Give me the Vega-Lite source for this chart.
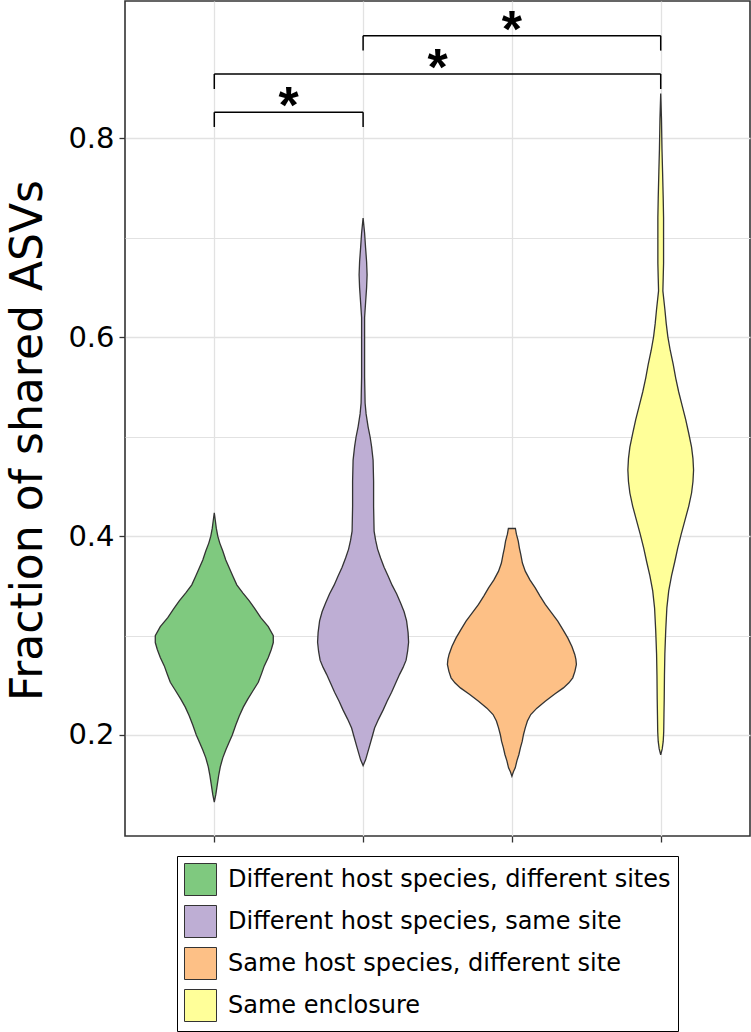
{
  "$schema": "https://vega.github.io/schema/vega-lite/v6.json",
  "width": 625,
  "height": 835,
  "autosize": "none",
  "padding": {"left": 125, "top": 1, "right": 1, "bottom": 196},
  "config": {
    "font": "DejaVu Sans",
    "view": {"stroke": "#333333", "strokeWidth": 1.6},
    "axis": {"gridColor": "#E2E2E2", "gridWidth": 1.3, "tickColor": "#333333", "tickWidth": 1.3, "tickSize": 6, "domain": false, "labelColor": "black", "titleColor": "black"}
  },
  "datasets": {
    "groups": [
      {"group": "Different host species, different sites"},
      {"group": "Different host species, same site"},
      {"group": "Same host species, different site"},
      {"group": "Same enclosure"}
    ],
    "violins": [
      {"group": "Different host species, different sites", "value": 0.1326, "density": 0},
      {"group": "Different host species, different sites", "value": 0.140, "density": 0.2},
      {"group": "Different host species, different sites", "value": 0.150, "density": 0.4},
      {"group": "Different host species, different sites", "value": 0.160, "density": 0.6},
      {"group": "Different host species, different sites", "value": 0.168, "density": 0.8},
      {"group": "Different host species, different sites", "value": 0.177, "density": 1.133},
      {"group": "Different host species, different sites", "value": 0.185, "density": 1.533},
      {"group": "Different host species, different sites", "value": 0.192, "density": 1.933},
      {"group": "Different host species, different sites", "value": 0.200, "density": 2.4},
      {"group": "Different host species, different sites", "value": 0.210, "density": 2.867},
      {"group": "Different host species, different sites", "value": 0.219, "density": 3.333},
      {"group": "Different host species, different sites", "value": 0.228, "density": 3.867},
      {"group": "Different host species, different sites", "value": 0.236, "density": 4.467},
      {"group": "Different host species, different sites", "value": 0.245, "density": 5.2},
      {"group": "Different host species, different sites", "value": 0.253, "density": 5.867},
      {"group": "Different host species, different sites", "value": 0.261, "density": 6.267},
      {"group": "Different host species, different sites", "value": 0.2695, "density": 6.667},
      {"group": "Different host species, different sites", "value": 0.278, "density": 7.2},
      {"group": "Different host species, different sites", "value": 0.286, "density": 7.6},
      {"group": "Different host species, different sites", "value": 0.293, "density": 7.867},
      {"group": "Different host species, different sites", "value": 0.300, "density": 7.867},
      {"group": "Different host species, different sites", "value": 0.309, "density": 7.2},
      {"group": "Different host species, different sites", "value": 0.318, "density": 6.2},
      {"group": "Different host species, different sites", "value": 0.327, "density": 5.4},
      {"group": "Different host species, different sites", "value": 0.335, "density": 4.667},
      {"group": "Different host species, different sites", "value": 0.343, "density": 3.8},
      {"group": "Different host species, different sites", "value": 0.351, "density": 3.0},
      {"group": "Different host species, different sites", "value": 0.360, "density": 2.467},
      {"group": "Different host species, different sites", "value": 0.368, "density": 2.0},
      {"group": "Different host species, different sites", "value": 0.376, "density": 1.533},
      {"group": "Different host species, different sites", "value": 0.385, "density": 1.133},
      {"group": "Different host species, different sites", "value": 0.393, "density": 0.733},
      {"group": "Different host species, different sites", "value": 0.400, "density": 0.467},
      {"group": "Different host species, different sites", "value": 0.408, "density": 0.267},
      {"group": "Different host species, different sites", "value": 0.416, "density": 0.133},
      {"group": "Different host species, different sites", "value": 0.4234, "density": 0},

      {"group": "Different host species, same site", "value": 0.1693, "density": 0},
      {"group": "Different host species, same site", "value": 0.175, "density": 0.333},
      {"group": "Different host species, same site", "value": 0.182, "density": 0.6},
      {"group": "Different host species, same site", "value": 0.189, "density": 0.867},
      {"group": "Different host species, same site", "value": 0.198, "density": 1.2},
      {"group": "Different host species, same site", "value": 0.207, "density": 1.533},
      {"group": "Different host species, same site", "value": 0.216, "density": 2.067},
      {"group": "Different host species, same site", "value": 0.225, "density": 2.667},
      {"group": "Different host species, same site", "value": 0.234, "density": 3.2},
      {"group": "Different host species, same site", "value": 0.243, "density": 3.8},
      {"group": "Different host species, same site", "value": 0.252, "density": 4.333},
      {"group": "Different host species, same site", "value": 0.261, "density": 4.867},
      {"group": "Different host species, same site", "value": 0.268, "density": 5.333},
      {"group": "Different host species, same site", "value": 0.2753, "density": 5.733},
      {"group": "Different host species, same site", "value": 0.284, "density": 5.933},
      {"group": "Different host species, same site", "value": 0.2932, "density": 6.067},
      {"group": "Different host species, same site", "value": 0.303, "density": 6.0},
      {"group": "Different host species, same site", "value": 0.3148, "density": 5.8},
      {"group": "Different host species, same site", "value": 0.324, "density": 5.467},
      {"group": "Different host species, same site", "value": 0.3328, "density": 5.0},
      {"group": "Different host species, same site", "value": 0.342, "density": 4.467},
      {"group": "Different host species, same site", "value": 0.3507, "density": 3.867},
      {"group": "Different host species, same site", "value": 0.360, "density": 3.333},
      {"group": "Different host species, same site", "value": 0.3687, "density": 2.8},
      {"group": "Different host species, same site", "value": 0.378, "density": 2.333},
      {"group": "Different host species, same site", "value": 0.387, "density": 1.933},
      {"group": "Different host species, same site", "value": 0.396, "density": 1.667},
      {"group": "Different host species, same site", "value": 0.405, "density": 1.467},
      {"group": "Different host species, same site", "value": 0.430, "density": 1.4},
      {"group": "Different host species, same site", "value": 0.455, "density": 1.4},
      {"group": "Different host species, same site", "value": 0.4765, "density": 1.333},
      {"group": "Different host species, same site", "value": 0.490, "density": 1.133},
      {"group": "Different host species, same site", "value": 0.500, "density": 0.933},
      {"group": "Different host species, same site", "value": 0.510, "density": 0.667},
      {"group": "Different host species, same site", "value": 0.523, "density": 0.4},
      {"group": "Different host species, same site", "value": 0.534, "density": 0.267},
      {"group": "Different host species, same site", "value": 0.560, "density": 0.2},
      {"group": "Different host species, same site", "value": 0.600, "density": 0.2},
      {"group": "Different host species, same site", "value": 0.620, "density": 0.2},
      {"group": "Different host species, same site", "value": 0.635, "density": 0.333},
      {"group": "Different host species, same site", "value": 0.650, "density": 0.467},
      {"group": "Different host species, same site", "value": 0.663, "density": 0.533},
      {"group": "Different host species, same site", "value": 0.676, "density": 0.467},
      {"group": "Different host species, same site", "value": 0.690, "density": 0.333},
      {"group": "Different host species, same site", "value": 0.705, "density": 0.2},
      {"group": "Different host species, same site", "value": 0.720, "density": 0},

      {"group": "Same host species, different site", "value": 0.1586, "density": 0},
      {"group": "Same host species, different site", "value": 0.163, "density": 0.2},
      {"group": "Same host species, different site", "value": 0.167, "density": 0.447},
      {"group": "Same host species, different site", "value": 0.174, "density": 0.667},
      {"group": "Same host species, different site", "value": 0.1804, "density": 0.933},
      {"group": "Same host species, different site", "value": 0.187, "density": 1.133},
      {"group": "Same host species, different site", "value": 0.1938, "density": 1.38},
      {"group": "Same host species, different site", "value": 0.200, "density": 1.533},
      {"group": "Same host species, different site", "value": 0.2072, "density": 1.78},
      {"group": "Same host species, different site", "value": 0.214, "density": 2.067},
      {"group": "Same host species, different site", "value": 0.2206, "density": 2.513},
      {"group": "Same host species, different site", "value": 0.227, "density": 3.333},
      {"group": "Same host species, different site", "value": 0.234, "density": 4.447},
      {"group": "Same host species, different site", "value": 0.241, "density": 5.667},
      {"group": "Same host species, different site", "value": 0.2474, "density": 6.867},
      {"group": "Same host species, different site", "value": 0.2525, "density": 7.6},
      {"group": "Same host species, different site", "value": 0.2575, "density": 8.113},
      {"group": "Same host species, different site", "value": 0.264, "density": 8.4},
      {"group": "Same host species, different site", "value": 0.2709, "density": 8.6},
      {"group": "Same host species, different site", "value": 0.276, "density": 8.533},
      {"group": "Same host species, different site", "value": 0.281, "density": 8.38},
      {"group": "Same host species, different site", "value": 0.289, "density": 8.0},
      {"group": "Same host species, different site", "value": 0.2977, "density": 7.447},
      {"group": "Same host species, different site", "value": 0.306, "density": 6.8},
      {"group": "Same host species, different site", "value": 0.3145, "density": 6.113},
      {"group": "Same host species, different site", "value": 0.323, "density": 5.267},
      {"group": "Same host species, different site", "value": 0.3313, "density": 4.447},
      {"group": "Same host species, different site", "value": 0.340, "density": 3.733},
      {"group": "Same host species, different site", "value": 0.348, "density": 3.113},
      {"group": "Same host species, different site", "value": 0.356, "density": 2.4},
      {"group": "Same host species, different site", "value": 0.3648, "density": 1.78},
      {"group": "Same host species, different site", "value": 0.373, "density": 1.4},
      {"group": "Same host species, different site", "value": 0.3816, "density": 1.18},
      {"group": "Same host species, different site", "value": 0.388, "density": 1.0},
      {"group": "Same host species, different site", "value": 0.395, "density": 0.847},
      {"group": "Same host species, different site", "value": 0.402, "density": 0.6},
      {"group": "Same host species, different site", "value": 0.4077, "density": 0.467},

      {"group": "Same enclosure", "value": 0.1801, "density": 0},
      {"group": "Same enclosure", "value": 0.186, "density": 0.2},
      {"group": "Same enclosure", "value": 0.1935, "density": 0.333},
      {"group": "Same enclosure", "value": 0.2032, "density": 0.4},
      {"group": "Same enclosure", "value": 0.220, "density": 0.433},
      {"group": "Same enclosure", "value": 0.2356, "density": 0.467},
      {"group": "Same enclosure", "value": 0.260, "density": 0.5},
      {"group": "Same enclosure", "value": 0.2818, "density": 0.553},
      {"group": "Same enclosure", "value": 0.305, "density": 0.667},
      {"group": "Same enclosure", "value": 0.3279, "density": 0.82},
      {"group": "Same enclosure", "value": 0.345, "density": 1.067},
      {"group": "Same enclosure", "value": 0.3603, "density": 1.447},
      {"group": "Same enclosure", "value": 0.374, "density": 1.867},
      {"group": "Same enclosure", "value": 0.388, "density": 2.267},
      {"group": "Same enclosure", "value": 0.402, "density": 2.733},
      {"group": "Same enclosure", "value": 0.4157, "density": 3.22},
      {"group": "Same enclosure", "value": 0.430, "density": 3.733},
      {"group": "Same enclosure", "value": 0.4434, "density": 4.113},
      {"group": "Same enclosure", "value": 0.455, "density": 4.3},
      {"group": "Same enclosure", "value": 0.4665, "density": 4.38},
      {"group": "Same enclosure", "value": 0.478, "density": 4.3},
      {"group": "Same enclosure", "value": 0.4896, "density": 4.113},
      {"group": "Same enclosure", "value": 0.5035, "density": 3.733},
      {"group": "Same enclosure", "value": 0.5173, "density": 3.333},
      {"group": "Same enclosure", "value": 0.531, "density": 2.867},
      {"group": "Same enclosure", "value": 0.545, "density": 2.4},
      {"group": "Same enclosure", "value": 0.559, "density": 2.0},
      {"group": "Same enclosure", "value": 0.5727, "density": 1.667},
      {"group": "Same enclosure", "value": 0.587, "density": 1.267},
      {"group": "Same enclosure", "value": 0.6005, "density": 0.953},
      {"group": "Same enclosure", "value": 0.614, "density": 0.733},
      {"group": "Same enclosure", "value": 0.6282, "density": 0.553},
      {"group": "Same enclosure", "value": 0.6467, "density": 0.287},
      {"group": "Same enclosure", "value": 0.660, "density": 0.333},
      {"group": "Same enclosure", "value": 0.6744, "density": 0.38},
      {"group": "Same enclosure", "value": 0.700, "density": 0.38},
      {"group": "Same enclosure", "value": 0.7206, "density": 0.38},
      {"group": "Same enclosure", "value": 0.740, "density": 0.333},
      {"group": "Same enclosure", "value": 0.7667, "density": 0.247},
      {"group": "Same enclosure", "value": 0.790, "density": 0.167},
      {"group": "Same enclosure", "value": 0.820, "density": 0.1},
      {"group": "Same enclosure", "value": 0.8453, "density": 0}
    ],
    "brackets": [
      {"xstart": 1, "xend": 2, "xmid": 1.5, "y": 0.8264, "ytick": 0.8116, "label": "*"},
      {"xstart": 1, "xend": 4, "xmid": 2.5, "y": 0.8649, "ytick": 0.8498, "label": "*"},
      {"xstart": 2, "xend": 4, "xmid": 3, "y": 0.9034, "ytick": 0.8884, "label": "*"}
    ]
  },
  "layer": [
    {
      "data": {"name": "groups"},
      "mark": {"type": "point", "opacity": 0},
      "encoding": {
        "x": {
          "field": "group", "type": "nominal",
          "sort": ["Different host species, different sites", "Different host species, same site", "Same host species, different site", "Same enclosure"],
          "scale": {"type": "point", "padding": 0.6},
          "axis": {"title": null, "labels": false, "grid": true, "ticks": true, "domain": false, "orient": "bottom"}
        }
      }
    },
    {
      "data": {"name": "violins"},
      "transform": [{"filter": {"field": "group", "equal": "Different host species, different sites"}}],
      "mark": {"type": "area", "orient": "horizontal", "stroke": "#333333", "strokeWidth": 1.3, "opacity": 1},
      "encoding": {
        "y": {
          "field": "value", "type": "quantitative",
          "scale": {"domain": [0.0984, 0.9383], "nice": false, "zero": false},
          "axis": {
            "title": "Fraction of shared ASVs",
            "values": [0.2, 0.3, 0.4, 0.5, 0.6, 0.7, 0.8],
            "labelExpr": "datum.value == 0.3 || datum.value == 0.5 || datum.value == 0.7 ? '' : format(datum.value, '.1f')",
            "tickOpacity": {"condition": {"test": "datum.value == 0.3 || datum.value == 0.5 || datum.value == 0.7", "value": 0}, "value": 1},
            "gridWidth": {"condition": {"test": "datum.value == 0.3 || datum.value == 0.5 || datum.value == 0.7", "value": 1}, "value": 1.3},
            "labelFontSize": 29,
            "labelPadding": 5,
            "titleFontSize": 44,
            "titleFontWeight": "normal",
            "titlePadding": 17,
            "titleY": 439,
            "domain": false
          }
        },
        "x": {"field": "density", "type": "quantitative", "stack": "center", "impute": null, "scale": {"domain": [-2.01888, 39.64779], "nice": false, "zero": false}, "axis": null},
        "color": {
          "field": "group", "type": "nominal",
          "scale": {
            "domain": ["Different host species, different sites", "Different host species, same site", "Same host species, different site", "Same enclosure"],
            "range": ["#7FC97F", "#BEAED4", "#FDC086", "#FFFF99"]
          },
          "legend": {
            "orient": "none", "legendX": 52, "legendY": 855,
            "title": null, "direction": "vertical",
            "symbolType": "square", "symbolSize": 1024,
            "symbolStrokeColor": "#333333", "symbolStrokeWidth": 1, "symbolOpacity": 1,
            "labelFontSize": 24, "labelColor": "black", "labelOffset": 11, "labelLimit": 700,
            "rowPadding": 5, "padding": 7, "strokeColor": "black",
            "encode": {"symbols": {"update": {"stroke": {"value": "#333333"}, "strokeWidth": {"value": 1}, "fillOpacity": {"value": 1}, "opacity": {"value": 1}}}}
          }
        }
      }
    },
    {
      "data": {"name": "violins"},
      "transform": [{"filter": {"field": "group", "equal": "Different host species, same site"}}],
      "mark": {"type": "area", "orient": "horizontal", "stroke": "#333333", "strokeWidth": 1.3, "opacity": 1},
      "encoding": {
        "y": {"field": "value", "type": "quantitative"},
        "x": {"field": "density", "type": "quantitative", "stack": "center", "impute": null, "scale": {"domain": [-12.83951, 28.82716], "nice": false, "zero": false}, "axis": null},
        "color": {"field": "group", "type": "nominal"}
      }
    },
    {
      "data": {"name": "violins"},
      "transform": [{"filter": {"field": "group", "equal": "Same host species, different site"}}],
      "mark": {"type": "area", "orient": "horizontal", "stroke": "#333333", "strokeWidth": 1.3, "opacity": 1},
      "encoding": {
        "y": {"field": "value", "type": "quantitative"},
        "x": {"field": "density", "type": "quantitative", "stack": "center", "impute": null, "scale": {"domain": [-21.49364, 20.17303], "nice": false, "zero": false}, "axis": null},
        "color": {"field": "group", "type": "nominal"}
      }
    },
    {
      "data": {"name": "violins"},
      "transform": [{"filter": {"field": "group", "equal": "Same enclosure"}}],
      "mark": {"type": "area", "orient": "horizontal", "stroke": "#333333", "strokeWidth": 1.3, "opacity": 1},
      "encoding": {
        "y": {"field": "value", "type": "quantitative"},
        "x": {"field": "density", "type": "quantitative", "stack": "center", "impute": null, "scale": {"domain": [-33.52427, 8.1424], "nice": false, "zero": false}, "axis": null},
        "color": {"field": "group", "type": "nominal"}
      }
    },
    {
      "data": {"name": "brackets"},
      "layer": [
        {
          "mark": {"type": "rule", "color": "black", "strokeWidth": 1.5},
          "encoding": {
            "x": {"field": "xstart", "type": "quantitative", "scale": {"domain": [0.4, 4.6], "nice": false, "zero": false}, "axis": null},
            "x2": {"field": "xend"},
            "y": {"field": "y", "type": "quantitative"}
          }
        },
        {
          "mark": {"type": "rule", "color": "black", "strokeWidth": 1.5},
          "encoding": {
            "x": {"field": "xstart", "type": "quantitative"},
            "y": {"field": "y", "type": "quantitative"},
            "y2": {"field": "ytick"}
          }
        },
        {
          "mark": {"type": "rule", "color": "black", "strokeWidth": 1.5},
          "encoding": {
            "x": {"field": "xend", "type": "quantitative"},
            "y": {"field": "y", "type": "quantitative"},
            "y2": {"field": "ytick"}
          }
        },
        {
          "mark": {"type": "text", "color": "black", "font": "Liberation Sans", "fontSize": 52, "fontWeight": "bold", "baseline": "alphabetic", "align": "center", "dy": 11},
          "encoding": {
            "x": {"field": "xmid", "type": "quantitative"},
            "y": {"field": "y", "type": "quantitative"},
            "text": {"field": "label"}
          }
        }
      ]
    }
  ],
  "resolve": {"scale": {"x": "independent"}}
}
